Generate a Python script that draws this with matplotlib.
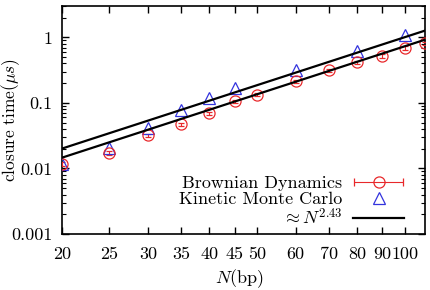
import numpy as np
import matplotlib
matplotlib.use('Agg')
import matplotlib.pyplot as plt
from matplotlib.ticker import FixedLocator, NullLocator, LogLocator, NullFormatter
from matplotlib.legend_handler import HandlerErrorbar

plt.rcParams['font.family'] = 'serif'
plt.rcParams['font.serif'] = ['cmr10']
plt.rcParams['mathtext.fontset'] = 'cm'
plt.rcParams['axes.formatter.use_mathtext'] = True

# Brownian Dynamics (red circles, with error bars)
bd_N = [20, 25, 30, 35, 40, 45, 50, 60, 70, 80, 90, 100, 110]
bd_t = [0.0116, 0.0175, 0.032, 0.047, 0.069, 0.106, 0.134, 0.215, 0.316, 0.415, 0.52, 0.69, 0.81]
bd_err = [0.0008, 0.0012, 0.002, 0.003, 0.004, 0.006, 0.008, 0.012, 0.018, 0.024, 0.03, 0.04, 0.05]

# Kinetic Monte Carlo (blue triangles)
kmc_N = [20, 25, 30, 35, 40, 45, 60, 80, 100]
kmc_t = [0.0118, 0.0205, 0.041, 0.079, 0.119, 0.166, 0.316, 0.62, 1.08]

# power-law fits  t = a * N^2.43
fit_exp = 2.43
fit_pref = [1.386e-5, 1.007e-5]
fit_N = np.array([20, 110])

xticks = [20, 25, 30, 35, 40, 45, 50, 60, 70, 80, 90, 100]
yticks = [0.001, 0.01, 0.1, 1]
ytick_labels = ['0.001', '0.01', '0.1', '1']

fs = 13

fig = plt.figure(figsize=(4.3, 2.9), dpi=100)
ax = fig.add_axes([0.144, 0.193, 0.844, 0.786])

ax.errorbar(bd_N, bd_t, yerr=bd_err, fmt='o', ms=8, mfc='none', mec='#e8282b',
            ecolor='#e8282b', elinewidth=0.8, capsize=2, mew=0.9, zorder=3)
ax.plot(kmc_N, kmc_t, '^', ms=8, mfc='none', mec='#3333dd', mew=0.9, zorder=3)
for a in fit_pref:
    ax.plot(fit_N, a * fit_N ** fit_exp, color='black', lw=1.6, zorder=4)

# legend entries
h_bd = ax.errorbar([np.nan], [np.nan], xerr=[1], fmt='o', ms=8, mfc='none', mec='#e8282b',
                   ecolor='#e8282b', elinewidth=0.8, capsize=3, mew=0.9)
h_kmc, = ax.plot([], [], '^', ms=8, mfc='none', mec='#3333dd', mew=0.9)
h_fit, = ax.plot([], [], color='black', lw=1.6)
ax.legend([h_bd, h_kmc, h_fit],
          ['Brownian Dynamics', 'Kinetic Monte Carlo', r'$\approx N^{2.43}$'],
          handler_map={type(h_bd): HandlerErrorbar(xerr_size=1.35)},
          loc='lower right', bbox_to_anchor=(0.977, -0.027), frameon=False,
          markerfirst=False, handlelength=2.8, handletextpad=0.6,
          labelspacing=0.0, fontsize=fs, borderaxespad=0.3)

ax.set_xscale('log')
ax.set_yscale('log')
ax.set_xlim(20, 110)
ax.set_ylim(0.001, 3)

ax.xaxis.set_major_locator(FixedLocator(xticks))
ax.xaxis.set_minor_locator(NullLocator())
ax.set_xticklabels([str(v) for v in xticks])
ax.yaxis.set_major_locator(FixedLocator(yticks))
ax.yaxis.set_minor_locator(LogLocator(base=10, subs=np.arange(2, 10)))
ax.yaxis.set_minor_formatter(NullFormatter())
ax.set_yticklabels(ytick_labels)

ax.tick_params(which='both', direction='in', top=True, right=True, labelsize=fs)
ax.tick_params(which='major', length=5, width=1, pad=7)
ax.tick_params(axis='x', which='major', pad=9)
ax.tick_params(which='minor', length=3, width=0.8)
for s in ax.spines.values():
    s.set_linewidth(1.2)

ax.set_xlabel(r'$N$(bp)', fontsize=fs)
ax.xaxis.set_label_coords(0.49, -0.145)
ax.set_ylabel(r'closure time($\mu s$)', fontsize=12.5)
ax.yaxis.set_label_coords(-0.11, 0.5)

fig.savefig('out.png', dpi=100)
